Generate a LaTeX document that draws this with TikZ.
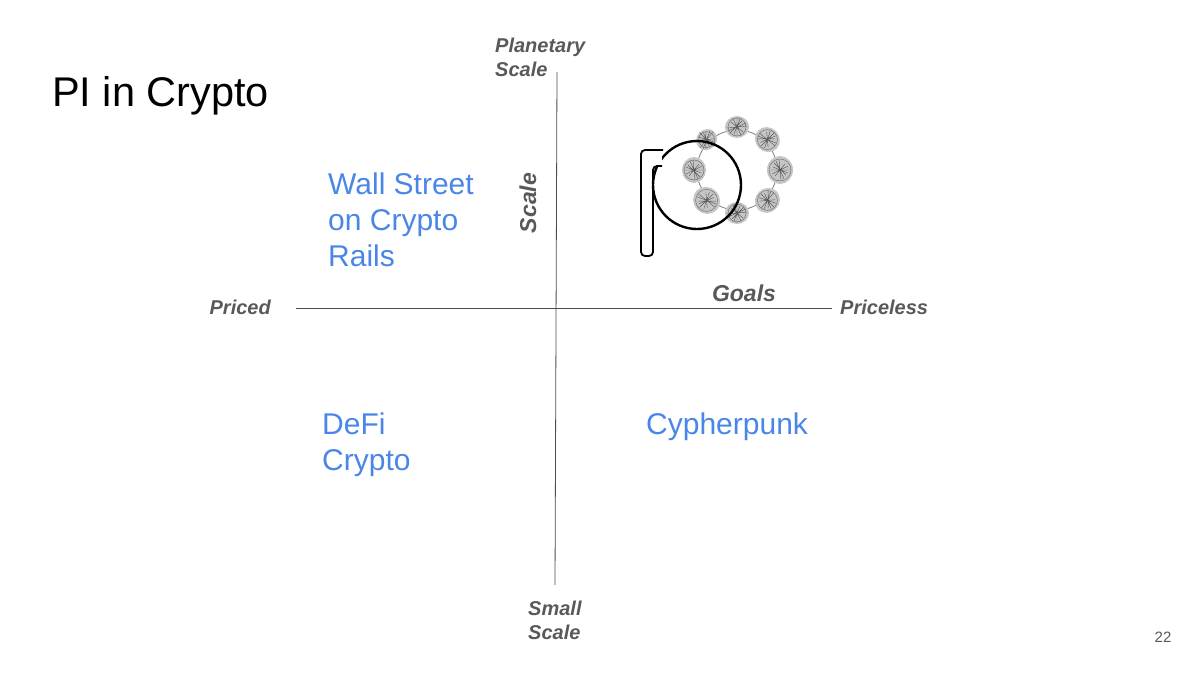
\documentclass[tikz,border=0pt]{standalone}
\usepackage{fontspec}
\setmainfont{Liberation Sans}
\definecolor{blu}{HTML}{4A86E8}
\definecolor{lab}{HTML}{595959}
\begin{document}
\begin{tikzpicture}[x=1pt,y=-1pt,
 lbl/.style={font=\fontsize{20}{24}\selectfont\bfseries\itshape,text=lab,align=left,inner sep=0},
 big/.style={font=\fontsize{23}{27}\selectfont\bfseries\itshape,text=lab,inner sep=0},
 blue/.style={font=\fontsize{30}{36}\selectfont,text=blu,align=left,inner sep=0,anchor=north west},
 ax/.style={draw=black!70,line width=0.8}]
\useasboundingbox (0,0) rectangle (1200,675);
\node[anchor=west,inner sep=0,font=\fontsize{41.5}{45}\selectfont] (title) at (52,96) {PI in Crypto};
\coordinate (vt) at (557,72); \coordinate (vb) at (555,585);
\coordinate (hl) at (296,308); \coordinate (hr) at (832,308);
\draw[ax] (vt)--(vb); \draw[ax] (hl)--(hr);
\node[lbl,anchor=west] (pl) at (495,57) {Planetary\\Scale};
\node[lbl,anchor=west] (sm) at (528,620) {Small\\Scale};
\node[lbl,anchor=east] (pr) at (271,307) {Priced};
\node[lbl,anchor=west] (pl2) at (840,307) {Priceless};
\node[big] (goals) at (744,293) {Goals};
\node[big,rotate=90] (scale) at (528,203) {Scale};
\node[blue] (ws) at (328,173) {Wall Street\\on Crypto\\Rails};
\node[blue] (df) at (322,413) {DeFi\\Crypto};
\node[blue] (cp) at (646,413) {Cypherpunk};
\node[text=lab,font=\fontsize{15}{16}\selectfont] (pg) at (1163,637) {22};
% logo fractal
\begin{scope}[shift={(737,170)}]
\draw[gray,line width=0.8] (0,0) circle (40);
\foreach \a/\r in {0/13,45/12,90/11,135/10,180/12,225/13,270/11,315/12}{
 \begin{scope}[rotate=\a]
 \fill[gray!45] (43,0) ellipse ({\r} and {\r+1});
 \draw[black!65,line width=0.45] (37,-7)--(49,5) (38,6)--(48,-6) (42,-10)--(44,10) (34,0)--(53,0)
   (36,-3)--(51,3) (39,-9)--(47,9) (35,4)--(51,-4);
 \draw[black!55,line width=0.5] (43,0) circle ({\r-2});
 \end{scope}
}
\end{scope}
% logo p
\draw[black,line width=2.4] (697,185) circle (44);
\fill[white] (648,150) rectangle (662,167);
\draw[black,line width=1.8,rounded corners=4] (663,150)--(641,150)--(641,256)--(653,256)--(653,166)--(662,166);
\end{tikzpicture}
\end{document}
